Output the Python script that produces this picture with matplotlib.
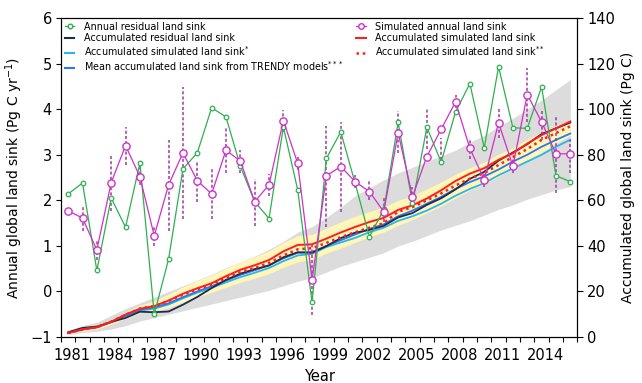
import numpy as np
import matplotlib
matplotlib.use("Agg")
import matplotlib.pyplot as plt
from matplotlib.lines import Line2D
from matplotlib.transforms import ScaledTranslation

plt.rcParams['font.family'] = ['DejaVu Sans']

years = list(range(1981, 2017))

# annual values (Pg C / yr), left axis
annual_resid = [2.14, 2.38, 0.46, 2.05, 1.41, 2.82, -0.50, 0.71, 2.69, 3.04,
                4.03, 3.83, 2.75, 1.97, 1.60, 3.61, 2.23, -0.24, 2.92, 3.50,
                2.38, 1.20, 1.80, 3.71, 1.93, 3.60, 2.84, 3.94, 4.56, 3.15,
                4.93, 3.59, 3.58, 4.49, 2.54, 2.41]
annual_sim = [1.77, 1.61, 0.91, 2.39, 3.20, 2.52, 1.22, 2.34, 3.04, 2.43,
              2.14, 3.10, 2.86, 1.97, 2.34, 3.75, 2.81, 0.25, 2.54, 2.74,
              2.41, 2.19, 1.75, 3.48, 2.08, 2.96, 3.56, 4.16, 3.14, 2.45,
              3.70, 2.75, 4.32, 3.72, 3.02, 3.02]
sim_hi = [np.nan, 1.90, 1.13, 2.99, 3.61, 2.70, 1.42, 3.32, 4.49, 2.86,
          2.70, 3.61, 3.10, 2.47, 2.58, 3.98, 2.96, 1.02, 3.63, 3.71,
          2.55, 2.44, 2.08, 3.96, 2.30, 4.00, 3.36, 4.31, 3.36, 2.63,
          4.05, 2.92, 4.90, 4.00, 3.87, 3.32]
sim_lo = [np.nan, 1.33, 0.69, 1.77, 2.77, 2.34, 1.00, 1.33, 1.59, 1.97,
          1.59, 2.61, 2.61, 1.44, 2.09, 3.50, 2.66, -0.52, 1.42, 1.75,
          2.26, 2.01, 1.53, 3.03, 1.90, 3.12, 2.88, 4.02, 2.90, 2.30,
          3.36, 2.59, 3.72, 3.32, 2.15, 2.59]

# accumulated values (Pg C), right axis
acc_resid = [2.1, 4.0, 4.6, 6.6, 8.4, 11.1, 10.9, 11.2, 14.2, 17.6,
             21.5, 25.1, 27.8, 29.8, 31.4, 35.0, 37.2, 37.0, 39.9, 43.4,
             45.8, 47.0, 48.8, 52.5, 54.4, 58.0, 60.9, 64.8, 69.4, 72.5,
             77.4, 81.0, 84.6, 89.1, 91.6, 94.1]
acc_sim = [1.8, 3.4, 4.3, 6.7, 9.9, 12.4, 13.6, 16.0, 19.0, 21.4,
           23.6, 26.7, 29.5, 31.5, 33.8, 37.6, 40.4, 40.7, 43.2, 45.9,
           48.3, 50.5, 52.3, 55.8, 57.8, 60.8, 64.4, 68.5, 71.7, 74.1,
           77.8, 80.6, 84.9, 88.6, 91.6, 94.6]
acc_sim2 = [1.8, 3.3, 4.3, 6.8, 9.8, 12.5, 13.6, 15.8, 18.6, 21.0,
            23.0, 25.8, 28.5, 30.3, 32.5, 35.8, 38.5, 39.0, 41.3, 43.8,
            46.0, 48.0, 50.0, 55.0, 57.0, 60.0, 63.0, 66.5, 69.5, 72.0,
            75.5, 79.0, 82.5, 86.5, 89.5, 92.5]
acc_sim1 = [1.7, 3.2, 4.2, 6.5, 9.2, 11.6, 12.5, 14.3, 17.0, 19.5,
            21.6, 24.0, 26.3, 28.2, 30.3, 33.3, 35.8, 36.5, 39.5, 41.5,
            43.5, 46.0, 48.0, 51.0, 53.0, 55.5, 58.5, 62.0, 65.0, 67.5,
            71.0, 74.0, 77.0, 80.0, 83.5, 86.6]
trendy_mean = [1.8, 3.4, 4.4, 6.7, 9.5, 12.0, 13.0, 14.8, 17.5, 20.0,
               22.3, 24.8, 27.3, 29.3, 31.5, 34.5, 37.0, 37.3, 40.0, 42.5,
               45.0, 47.5, 49.5, 53.0, 55.5, 58.5, 61.5, 65.0, 68.0, 70.5,
               73.5, 77.0, 80.0, 83.5, 86.5, 89.3]
trendy_lo = [1.0, 2.0, 2.5, 3.5, 5.0, 7.0, 8.5, 10.0, 11.5, 13.0,
             14.5, 16.0, 17.5, 19.0, 20.5, 22.5, 24.5, 26.0, 28.5, 31.0,
             33.0, 35.0, 37.0, 40.0, 42.0, 44.5, 47.0, 49.0, 51.0, 53.5,
             56.0, 58.0, 60.5, 62.5, 64.5, 66.0]
trendy_hi = [3.0, 5.0, 6.5, 9.5, 12.5, 15.0, 17.5, 20.0, 22.5, 25.0,
             27.5, 30.5, 33.0, 35.5, 38.5, 42.0, 46.0, 48.5, 52.5, 57.0,
             62.0, 65.5, 69.0, 72.0, 74.5, 77.0, 79.5, 82.0, 85.5, 88.5,
             92.5, 96.0, 100.0, 104.0, 108.5, 113.0]
sim_band_lo = [1.3, 2.6, 3.5, 5.6, 8.2, 10.5, 11.3, 12.8, 15.3, 17.6,
               19.6, 21.8, 24.0, 25.8, 27.8, 30.6, 33.0, 34.0, 36.8, 39.0,
               41.5, 44.0, 46.0, 49.0, 51.5, 54.5, 57.5, 61.0, 64.5, 67.0,
               70.5, 74.0, 77.5, 81.0, 85.0, 88.5]
sim_band_hi = [2.2, 4.0, 5.2, 7.8, 11.0, 14.0, 15.8, 18.8, 22.0, 24.8,
               27.2, 30.2, 33.0, 35.2, 37.8, 41.5, 44.5, 45.0, 47.8, 50.5,
               53.0, 55.0, 57.0, 60.0, 62.0, 65.0, 68.0, 71.5, 74.3, 76.8,
               80.2, 83.0, 86.8, 90.0, 92.8, 95.2]

c_green = '#2EB04F'
c_mag = '#D030C8'
c_err = '#9A3AA0'
c_dark = '#1C2C4C'
c_cyan = '#2AB4F0'
c_blue = '#2A78F0'
c_red = '#FF1E1E'

fig = plt.figure(figsize=(6.42, 3.83), dpi=100)
ax = fig.add_axes([0.095, 0.12, 0.8045, 0.833])
ax2 = ax.twinx()

# accumulated series on right axis
ax2.fill_between(years, trendy_lo, trendy_hi, color='#DCDCDC', lw=0)
ax2.fill_between(years, sim_band_lo, sim_band_hi, color='#FFF6B8', lw=0)
ax2.plot(years, acc_sim1, color=c_cyan, lw=1.3)
ax2.plot(years, trendy_mean, color=c_blue, lw=1.3)
ax2.plot(years, acc_resid, color=c_dark, lw=1.3)
ax2.plot(years, acc_sim, color=c_red, lw=1.4)
ax2.plot(years, acc_sim2, color=c_red, lw=1.8, ls=(0, (1, 1.5)))
ax2.set_ylim(0, 140)
ax2.set_yticks(range(0, 141, 20))

# annual series on left axis, drawn above
ax.set_zorder(ax2.get_zorder() + 1)
ax.patch.set_visible(False)
ax.vlines(years, sim_lo, sim_hi, colors=c_err, lw=1.1, linestyles=(0, (2, 1.4)))
ax.plot(years, annual_resid, color=c_green, lw=0.9, marker='o', ms=3.3,
        mfc='white', mec=c_green, mew=0.9)
ax.plot(years, annual_sim, color=c_mag, lw=0.9, marker='o', ms=5.2,
        mfc='white', mec=c_mag, mew=1.0)
ax.set_ylim(-1, 6)
ax.set_xlim(1980.5, 2016.5)

ax.set_xticks(range(1981, 2016, 3))
ax.set_xticks(np.arange(1980.5, 2016.6, 1.0), minor=True)
ax.tick_params(axis='x', which='major', length=0, labelsize=10.5, pad=8)
ax.tick_params(axis='x', which='minor', length=3.5, width=0.8, direction='out')
ax.tick_params(axis='y', length=3.5, width=0.8, direction='out', labelsize=10.5, pad=3)
ax2.tick_params(axis='y', length=4, width=0.8, direction='out', labelsize=10.5, pad=3)
for lbl in ax.get_xticklabels():
    lbl.set_transform(lbl.get_transform() + ScaledTranslation(0.04, 0, fig.dpi_scale_trans))

ax.set_xlabel('Year', fontsize=10.5, labelpad=4)
ax.set_ylabel('Annual global land sink (Pg C yr$^{-1}$)', fontsize=10)
ax2.set_ylabel('Accumulated global land sink (Pg C)', fontsize=10)

handles = [
    Line2D([], [], color=c_green, lw=0.9, marker='o', ms=3.3, mfc='white', mec=c_green),
    Line2D([], [], color=c_dark, lw=1.5),
    Line2D([], [], color=c_cyan, lw=1.5),
    Line2D([], [], color=c_blue, lw=1.5),
    Line2D([], [], color=c_mag, lw=0.9, marker='o', ms=4, mfc='white', mec=c_mag),
    Line2D([], [], color=c_red, lw=1.5),
    Line2D([], [], color=c_red, lw=1.8, ls=(0, (1, 1.5))),
    Line2D([], [], color='none'),
]
labels = ['Annual residual land sink',
          'Accumulated residual land sink',
          'Accumulated simulated land sink$^{*}$',
          'Mean accumulated land sink from TRENDY models$^{***}$',
          'Simulated annual land sink',
          'Accumulated simulated land sink',
          'Accumulated simulated land sink$^{**}$',
          '']
ax.legend(handles, labels, loc='upper left', ncol=2, frameon=False,
          fontsize=6.9, handlelength=1.0, handletextpad=1.0,
          labelspacing=0.12, columnspacing=1.3, borderaxespad=0.1,
          borderpad=0.3)

fig.savefig('out.png', dpi=100)
